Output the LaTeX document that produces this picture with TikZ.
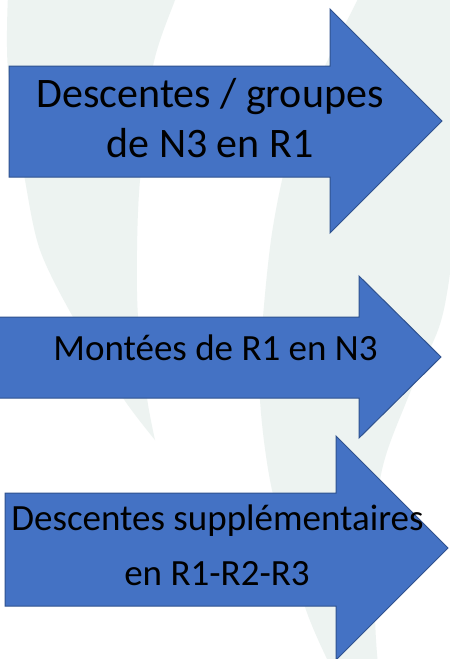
\documentclass[tikz,border=0pt]{standalone}
\usepackage{fontspec}
\setmainfont{Carlito}
\definecolor{wm}{RGB}{237,243,241}
\definecolor{arrowfill}{HTML}{4472C4}
\definecolor{arrowline}{HTML}{2F528F}
\tikzset{
  bigarrow/.style={fill=arrowfill, draw=arrowline, line width=1pt, line join=miter},
  lbl/.style={inner sep=0pt, anchor=base, text=black},
}
\begin{document}
\begin{tikzpicture}[x=1pt,y=-1pt]
\useasboundingbox (0,0) rectangle (450,659);
\fill[white] (0,0) rectangle (450,659);
\begin{scope}
\clip (0,0) rectangle (450,659);
% watermark shapes
\fill[wm] plot[smooth] coordinates {(8,-5) (8,70) (25,180) (40,250) (73,317) (123,398) (155,440)}
  -- plot[smooth] coordinates {(155,440) (147,398) (138,317) (137,250) (140,180) (153,66) (175,0) (177,-5)} -- cycle;
\fill[wm] plot[smooth] coordinates {(360,-5) (325,66) (290,150) (272,233) (262,330) (260,400) (272,490) (305,607) (330,665)}
  -- plot[smooth] coordinates {(378,665) (375,607) (380,480) (407,400) (438,330) (448,287) (455,230)} -- (455,-5) -- cycle;
% arrows
\draw[bigarrow] (9,66) -- (330,66) -- (330,9) -- (442,121) -- (330,233) -- (330,177) -- (9,177) -- cycle;
\draw[bigarrow] (-3,317) -- (359,317) -- (359,276) -- (441,357) -- (359,438) -- (359,398) -- (-3,398) -- cycle;
\draw[bigarrow] (5,493) -- (336,493) -- (336,436) -- (448,548) -- (336,660) -- (336,606) -- (5,606) -- cycle;
\end{scope}
% texts
\node[lbl, font=\fontsize{42}{50}\selectfont] (t1a) at (210,107) {Descentes / groupes};
\node[lbl, font=\fontsize{42}{50}\selectfont] (t1b) at (210,157) {de N3 en R1};
\node[lbl, font=\fontsize{37}{46}\selectfont] (t2) at (215.5,360) {Montées de R1 en N3};
\node[lbl, font=\fontsize{37}{46}\selectfont] (t3a) at (217.5,530) {Descentes supplémentaires};
\node[lbl, font=\fontsize{37}{46}\selectfont] (t3b) at (217,585) {en R1-R2-R3};
\end{tikzpicture}
\end{document}
